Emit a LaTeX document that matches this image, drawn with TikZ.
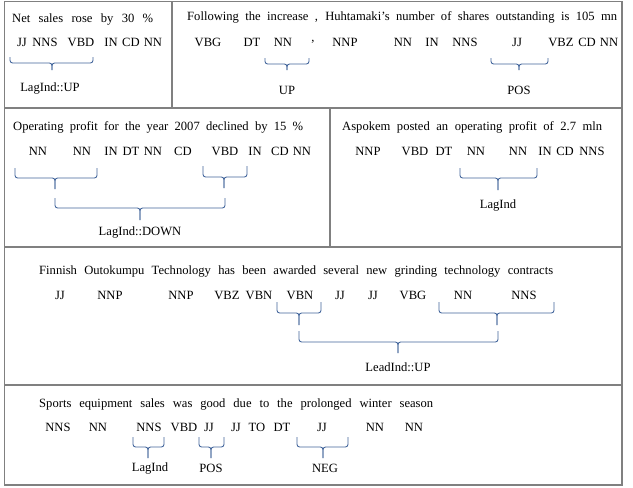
\documentclass[tikz,border=0pt]{standalone}
\usepackage{fontspec}
\setmainfont{Liberation Serif}
\definecolor{bracecol}{HTML}{41649A}
\definecolor{framecol}{HTML}{808080}
\newcommand\drawbrace[6]{% x1, xm, x2, top, bottom, tip
  \draw[bracestyle] (#1,#4) -- (#1,#5) -- (#2,#5) -- (#2,#6);
  \draw[bracestyle] (#3,#4) -- (#3,#5) -- (#2,#5) -- (#2,#6);}
\begin{document}
\begin{tikzpicture}[x=1pt,y=-1pt,
  txt/.style={inner sep=0pt, font=\fontsize{12.6}{15}\selectfont},
  sent/.style={txt, anchor=west},
  tagtxt/.style={txt},
  lbl/.style={txt},
  bracestyle/.style={draw=bracecol, line width=0.9pt, rounded corners=2.6pt},
  frame/.style={draw=framecol, line width=1.3pt}]
\useasboundingbox (0,0) rectangle (633,488);
% frames
\draw[frame] (4.5,1.5) rectangle (622,485);
\draw[frame] (4.5,108) -- (622,108);
\draw[frame] (4.5,247) -- (622,247);
\draw[frame] (4.5,385) -- (622,385);
\draw[frame] (172,1.5) -- (172,108);
\draw[frame] (330,108) -- (330,247);
% row 1 left
\node[sent] (s1) at (12,19) {\makebox[141pt][s]{Net sales rose by 30 \%}};
\foreach \t/\x [count=\i] in {JJ/22,NNS/45,VBD/81,IN/111,CD/131,NN/153}
  \node[tagtxt] (ra\i) at (\x,42) {\t};
\drawbrace{10}{52}{93}{57}{63}{70}
\node[lbl] (la) at (50,88) {LagInd::UP};
% row 1 right
\node[sent] (s2) at (187,17) {\makebox[430pt][s]{Following the increase , Huhtamaki’s number of shares outstanding is 105 mn}};
\foreach \t/\x [count=\i] in {VBG/208,DT/252,NN/283,{,}/313,NNP/345,NN/403,IN/432,NNS/465,JJ/517,VBZ/561,CD/587,NN/609}
  \node[tagtxt] (rb\i) at (\x,42) {\t};
\drawbrace{265}{287}{309}{58}{64}{70}
\node[lbl] (lb1) at (287,90) {UP};
\drawbrace{491}{519}{548}{58}{64}{70}
\node[lbl] (lb2) at (519,90) {POS};
% row 2 left
\node[sent] (s3) at (13,127) {\makebox[290pt][s]{Operating profit for the year 2007 declined by 15 \%}};
\foreach \t/\x [count=\i] in {NN/38,NN/82,IN/111,DT/131,NN/153,CD/183,VBD/225,IN/255,CD/280,NN/302}
  \node[tagtxt] (rc\i) at (\x,151) {\t};
\drawbrace{15}{55}{97}{168}{178}{189}
\drawbrace{203}{224}{247}{166}{177}{188}
\drawbrace{55}{140}{225}{198}{208}{220}
\node[lbl] (lc) at (140,232) {LagInd::DOWN};
% row 2 right
\node[sent] (s4) at (342,127) {\makebox[260pt][s]{Aspokem posted an operating profit of 2.7 mln}};
\foreach \t/\x [count=\i] in {NNP/368,VBD/415,DT/444,NN/476,NN/518,IN/545,CD/565,NNS/592}
  \node[tagtxt] (rd\i) at (\x,151) {\t};
\drawbrace{460}{498}{537}{168}{178}{190}
\node[lbl] (ld) at (498,205) {LagInd};
% row 3
\node[sent] (s5) at (39,271) {\makebox[514pt][s]{Finnish Outokumpu Technology has been awarded several new grinding technology contracts}};
\foreach \t/\x [count=\i] in {JJ/60,NNP/110,NNP/181,VBZ/227,VBN/259,VBN/300,JJ/340,JJ/373,VBG/413,NN/463,NNS/524}
  \node[tagtxt] (re\i) at (\x,295) {\t};
\drawbrace{277}{299}{321}{302}{313}{325}
\drawbrace{439}{497}{554}{302}{313}{325}
\drawbrace{299}{398}{498}{331}{342}{353}
\node[lbl] (le) at (398,367) {LeadInd::UP};
% row 4
\node[sent] (s6) at (39,404) {\makebox[394pt][s]{Sports equipment sales was good due to the prolonged winter season}};
\foreach \t/\x [count=\i] in {NNS/58,NN/98,NNS/149,VBD/184,JJ/209,JJ/236,TO/257,DT/282,JJ/322,NN/375,NN/414}
  \node[tagtxt] (rf\i) at (\x,427) {\t};
\drawbrace{133}{148}{164}{437}{447}{458}
\drawbrace{199}{211}{224}{437}{447}{458}
\drawbrace{297}{323}{348}{437}{447}{458}
\node[lbl] (lf1) at (150,468) {LagInd};
\node[lbl] (lf2) at (211,468) {POS};
\node[lbl] (lf3) at (325,468) {NEG};
\end{tikzpicture}
\end{document}
